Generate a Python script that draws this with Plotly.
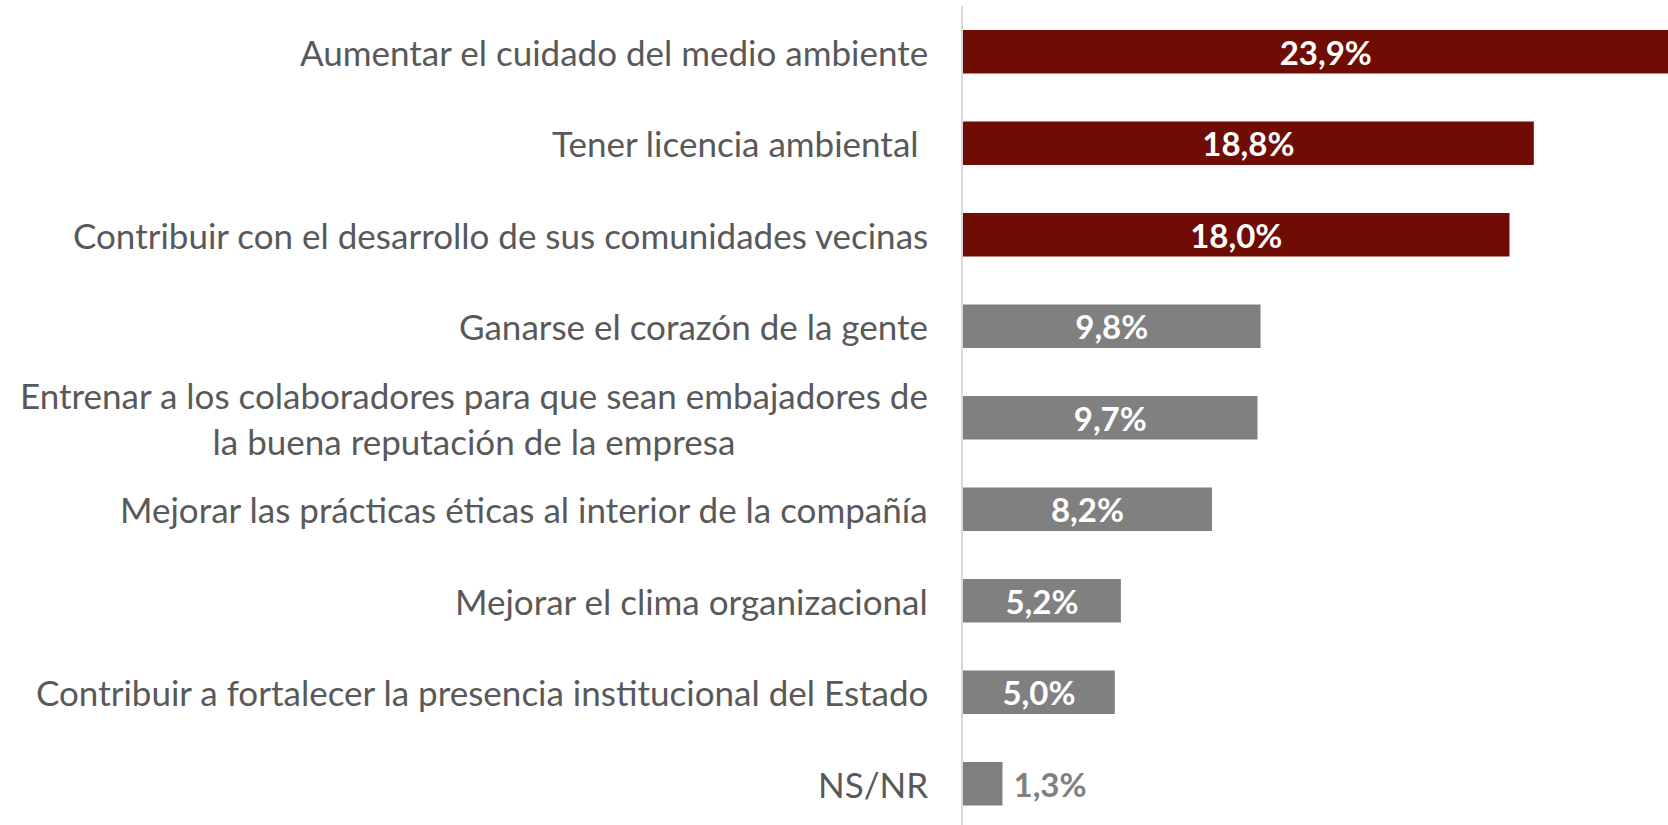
import plotly.graph_objects as go

categories = [
    "Aumentar el cuidado del medio ambiente",
    "Tener licencia ambiental ",
    "Contribuir con el desarrollo de sus comunidades vecinas",
    "Ganarse el corazón de la gente",
    "Entrenar a los colaboradores para que sean embajadores de<br>la buena reputación de la empresa",
    "Mejorar las prácticas éticas al interior de la compañía",
    "Mejorar el clima organizacional",
    "Contribuir a fortalecer la presencia institucional del Estado",
    "NS/NR",
]
values = [23.9, 18.8, 18.0, 9.8, 9.7, 8.2, 5.2, 5.0, 1.3]
highlighted = [True, True, True, False, False, False, False, False, False]

RED = "#6F0C03"
GRAY = "#808080"
LABEL = "#595959"
FONT = "Lato"

bar_colors = [RED if h else GRAY for h in highlighted]
positions = ["inside" if v > 3 else "outside" for v in values]
templates = ["%{x:.1f}%" if p == "inside" else "\u00a0%{x:.1f}%" for p in positions]

fig = go.Figure(
    go.Bar(
        x=values,
        y=categories,
        orientation="h",
        marker=dict(color=bar_colors, line=dict(width=0)),
        texttemplate=templates,
        textposition=positions,
        insidetextanchor="middle",
        insidetextfont=dict(family=FONT, size=33, color="white", weight="bold"),
        outsidetextfont=dict(family=FONT, size=33, color=GRAY, weight="bold"),
        constraintext="none",
        cliponaxis=True,
        hoverinfo="skip",
    )
)

for cat in categories:
    label = cat[:-1] + "\u00a0" if cat.endswith(" ") else cat
    fig.add_annotation(
        x=0, y=cat, xref="x", yref="y",
        text=label, showarrow=False,
        xanchor="right", yanchor="middle", align="center",
        xshift=-33,
        font=dict(family=FONT, size=35, color=LABEL),
    )

fig.update_layout(
    width=1668, height=825,
    margin=dict(l=963, r=0, t=6, b=0),
    plot_bgcolor="white", paper_bgcolor="white",
    separators=",.",
    bargap=0.525,
    showlegend=False,
    xaxis=dict(range=[0, 23.22], visible=False, fixedrange=True),
    yaxis=dict(
        categoryorder="array", categoryarray=categories,
        range=[8.45, -0.5],
        showticklabels=False, showgrid=False, zeroline=False,
        showline=True, linecolor="#D9D9D9", linewidth=2,
        ticks="", fixedrange=True,
    ),
)

fig.write_html("out.html", post_script="document.body.style.margin='0';",
               config={"displayModeBar": False})
